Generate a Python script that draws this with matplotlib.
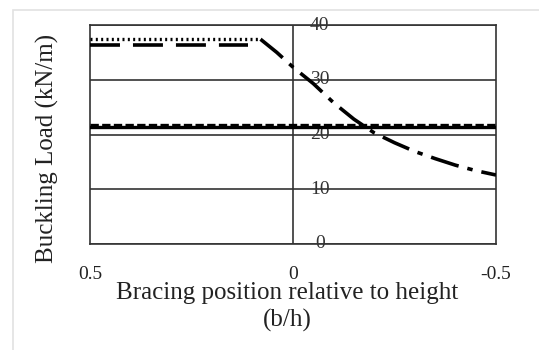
import matplotlib.pyplot as plt
from matplotlib.patches import Rectangle

# Data
x_flat = [0.5, 0.08]
dotted_flat = [37.4, 37.4]
x_dash = [0.5, 0.11]
dashed_flat = [36.3, 36.3]

x_curve = [0.08, 0.04, 0.0, -0.05, -0.1, -0.15, -0.2, -0.25, -0.3, -0.35, -0.4, -0.45, -0.5]
curve = [37.4, 35.0, 32.3, 29.3, 25.8, 22.8, 20.3, 18.5, 16.9, 15.6, 14.4, 13.4, 12.6]

x_full = [0.5, -0.5]
solid_line = [21.3, 21.3]
short_dash_line = [21.8, 21.8]

y_ticks = [0, 10, 20, 30, 40]
x_ticks = [0.5, 0, -0.5]

plt.rcParams['font.family'] = ['Liberation Serif', 'DejaVu Serif']

fig = plt.figure(figsize=(5.39, 3.5), dpi=100)
fig.patches.append(Rectangle((13 / 539, -0.1), 1.5, 1.1 - 10 / 350,
                             transform=fig.transFigure, fill=False,
                             edgecolor='#e2e2e2', lw=1.2))
ax = fig.add_axes([90 / 539, 1 - 244 / 350, 406 / 539, 219 / 350])

# gridlines and zero axis
for y in y_ticks:
    ax.axhline(y, color='#333333', lw=1.2, zorder=1)
ax.axvline(0, color='#333333', lw=1.2, zorder=1)

# series
ax.plot(x_flat, dotted_flat, color='black', lw=2.4, linestyle=(0, (0.6, 1.0)), zorder=3)
ax.plot(x_dash, dashed_flat, color='black', lw=2.6, linestyle=(0, (8.3, 3.6)), zorder=3)
ax.plot(x_curve, curve, color='black', lw=2.6, linestyle=(0, (8, 2.5, 1.5, 2.5)), zorder=3)
ax.plot(x_full, solid_line, color='black', lw=2.4, zorder=3)
ax.plot(x_full, short_dash_line, color='black', lw=2.4, linestyle=(0, (2.5, 1)), zorder=3)

ax.set_xlim(0.5, -0.5)
ax.set_ylim(0, 40)

# y tick labels beside the zero axis
ax.set_yticks([])
for y in y_ticks:
    ax.text(-0.066, y, str(y), ha='center', va='center', fontsize=14, color='#333333', zorder=2)

ax.set_xticks(x_ticks)
ax.set_xticklabels(['0.5', '0', '-0.5'], fontsize=14, color='#222222')
ax.tick_params(axis='x', length=0, pad=16)

for s in ax.spines.values():
    s.set_color('#333333')
    s.set_linewidth(1.2)

fig.text(47 / 539, 1 - 148 / 350, 'Buckling Load (kN/m)', rotation=90,
         ha='center', va='center', fontsize=18, color='#222222')
fig.text(287 / 539, 1 - 307 / 350, 'Bracing position relative to height\n(b/h)',
         ha='center', va='center', fontsize=18, color='#222222', linespacing=1.25)

fig.savefig('out.png', dpi=100)
